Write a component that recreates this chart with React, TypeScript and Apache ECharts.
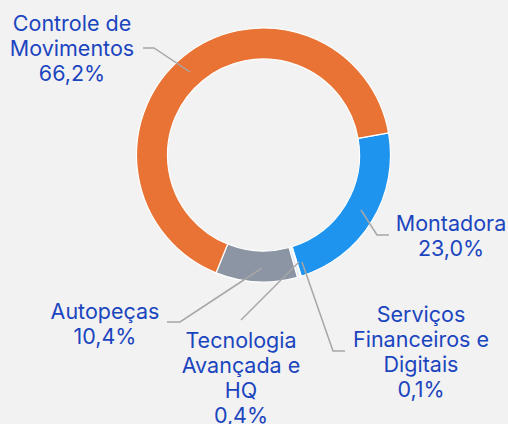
import React, { useEffect, useRef } from "react";
import * as echarts from "echarts";

const categories = [
  "Montadora",
  "Serviços Financeiros e Digitais",
  "Tecnologia Avançada e HQ",
  "Autopeças",
  "Controle de Movimentos",
];
const labelTexts = [
  "Montadora",
  "Serviços\nFinanceiros e\nDigitais",
  "Tecnologia\nAvançada e\nHQ",
  "Autopeças",
  "Controle de\nMovimentos",
];
const values = [23.0, 0.1, 0.4, 10.4, 66.2];
const colors = ["#1E94EE", "#1F3C8A", "#E6ECF5", "#8C95A3", "#E97334"];

// label placement (block centres) and label-line bend points
const labelPos: [number, number][] = [
  [451, 235],
  [421, 351],
  [241, 377],
  [105, 323],
  [72, 48],
];
const linePts: number[][][] = [
  [[361, 210], [377, 235], [389, 235]],
  [[302, 262], [333, 351], [345, 351]],
  [[299, 262], [241, 320]],
  [[262, 268], [180, 322], [167, 322]],
  [[190, 72], [154, 48], [143, 48]],
];

export default function App() {
  const ref = useRef<HTMLDivElement>(null);
  useEffect(() => {
    if (!ref.current) return;
    const chart = echarts.init(ref.current, undefined, { renderer: "svg" });
    chart.setOption({
      animation: false,
      backgroundColor: "#f2f2f2",
      graphic: linePts.map((pts) => ({
        type: "polyline",
        z: 10,
        silent: true,
        shape: { points: pts },
        style: { stroke: "#A6A6A6", lineWidth: 1.5, fill: null },
      })),
      series: [
        {
          type: "pie",
          center: [263.5, 155],
          radius: [96, 127],
          startAngle: 10,
          clockwise: true,
          avoidLabelOverlap: false,
          minAngle: 0,
          itemStyle: { borderColor: "#ffffff", borderWidth: 1.2 },
          emphasis: { disabled: true },
          label: {
            show: true,
            position: "outside",
            color: "#1B45BF",
            fontFamily: "Inter",
            fontSize: 21.5,
            lineHeight: 25,
            align: "center",
            formatter: (p: any) =>
              labelTexts[p.dataIndex] +
              "\n" +
              values[p.dataIndex].toFixed(1).replace(".", ",") +
              "%",
          },
          labelLine: { show: false },
          labelLayout: (params: any) => {
            const i = params.dataIndex;
            return {
              x: labelPos[i][0],
              y: labelPos[i][1],
              align: "center",
              verticalAlign: "middle",
            };
          },
          data: categories.map((c, i) => ({
            name: c,
            value: values[i],
            itemStyle: { color: colors[i] },
          })),
        },
      ],
    });
    return () => chart.dispose();
  }, []);
  return (
    <div
      ref={ref}
      style={{ position: "fixed", left: 0, top: 0, width: 508, height: 424 }}
    />
  );
}
